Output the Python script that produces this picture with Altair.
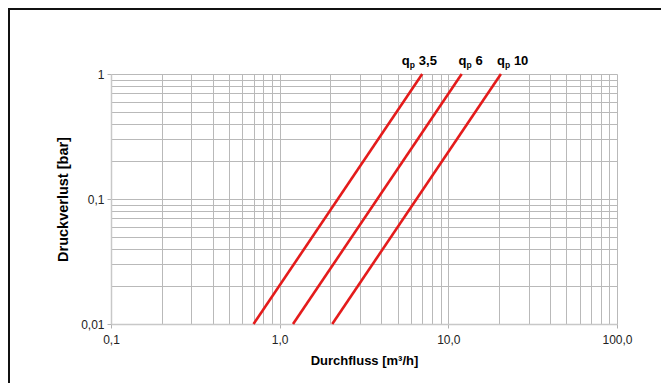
import altair as alt
import pandas as pd

# ---- data ----
series = ["3,5", "6", "10"]               # q_p nominal flow labels
flow_at_low = [0.7, 1.2, 2.05]             # m³/h at 0.01 bar
flow_at_high = [7.0, 12.0, 20.5]           # m³/h at 1 bar
p_low = 0.01
p_high = 1.0
label_flow = [5.3, 11.5, 19.4]             # where each curve label starts (m³/h, at 1 bar)

x_grid = [0.1, 0.2, 0.3, 0.4, 0.5, 0.6, 0.7, 0.8, 0.9,
          1, 2, 3, 4, 5, 6, 7, 8, 9,
          10, 20, 30, 40, 50, 60, 70, 80, 90, 100]
y_grid = [0.01, 0.02, 0.03, 0.04, 0.05, 0.06, 0.07, 0.08, 0.09,
          0.1, 0.2, 0.3, 0.4, 0.5, 0.6, 0.7, 0.8, 0.9, 1]

rows = []
for s, lo, hi in zip(series, flow_at_low, flow_at_high):
    rows.append({"series": s, "flow": lo, "dp": p_low})
    rows.append({"series": s, "flow": hi, "dp": p_high})
lines_df = pd.DataFrame(rows)
labels_df = pd.DataFrame({"series": series, "flow": label_flow, "dp": [p_high] * 3})

FONT = "Liberation Sans"
RED = "#e41b1b"
MAJOR = "abs(log(datum.value)/LN10 - round(log(datum.value)/LN10)) < 0.0001"

x_axis = alt.Axis(
    values=x_grid, grid=True, gridColor="#b9b9b9", gridWidth=1,
    labelExpr=f"({MAJOR}) ? replace(format(datum.value, '.1f'), '.', ',') : ''",
    labelOverlap=False, labelFlush=False, labelFont=FONT, labelFontSize=12,
    labelColor="#222", labelPadding=6,
    tickSize=4, tickColor="#b0b0b0",
    tickOpacity={"condition": {"test": MAJOR, "value": 1}, "value": 0},
    domainColor="#c8c8c8", domainWidth=1.5,
    titleFont=FONT, titleFontSize=13, titleFontWeight="bold", titleColor="#000",
    titlePadding=9,
)
y_axis = alt.Axis(
    values=y_grid, grid=True, gridColor="#b9b9b9", gridWidth=1,
    labelExpr=f"({MAJOR}) ? replace(format(datum.value, '~g'), '.', ',') : ''",
    labelOverlap=False, labelFlush=False, labelFont=FONT, labelFontSize=12,
    labelColor="#222", labelPadding=3,
    tickSize=4, tickColor="#b0b0b0",
    tickOpacity={"condition": {"test": MAJOR, "value": 1}, "value": 0},
    domainColor="#c8c8c8", domainWidth=1.5,
    titleFont=FONT, titleFontSize=14.5, titleFontWeight="bold", titleColor="#000",
    titlePadding=10,
)

x_scale = alt.Scale(type="log", domain=[0.1, 100], nice=False)
y_scale = alt.Scale(type="log", domain=[0.01, 1], nice=False)


def X(field):
    return alt.X(f"{field}:Q", scale=x_scale, axis=x_axis, title="Durchfluss [m³/h]")


def Y(field):
    return alt.Y(f"{field}:Q", scale=y_scale, axis=y_axis, title="Druckverlust [bar]")


lines = alt.Chart(lines_df).mark_line(color=RED, strokeWidth=2.6).encode(
    x=X("flow"), y=Y("dp"), detail="series:N"
)

q_txt = alt.Chart(labels_df).mark_text(
    text="q", align="left", baseline="alphabetic", dx=0, dy=-9,
    font=FONT, fontSize=13, fontWeight="bold", color="#000"
).encode(x=X("flow"), y=Y("dp"))

p_txt = alt.Chart(labels_df).mark_text(
    text="p", align="left", baseline="alphabetic", dx=8, dy=-6,
    font=FONT, fontSize=8.5, fontWeight="bold", color="#000"
).encode(x=X("flow"), y=Y("dp"))

n_txt = alt.Chart(labels_df).mark_text(
    align="left", baseline="alphabetic", dx=17, dy=-9,
    font=FONT, fontSize=13, fontWeight="bold", color="#000"
).encode(x=X("flow"), y=Y("dp"), text="series:N")

frame = alt.Chart(alt.Data(values=[{}])).mark_rect(
    fillOpacity=0, stroke="#111", strokeWidth=2
).encode(
    x=alt.value(-102), x2=alt.value(700), y=alt.value(-65), y2=alt.value(500)
)

chart = alt.layer(lines, q_txt, p_txt, n_txt, frame).properties(
    width=506, height=250,
    autosize=alt.AutoSizeParams(type="none"),
    padding={"left": 103, "top": 66, "right": 44, "bottom": 59},
    background="white",
).configure_view(stroke=None)

chart.save("out.html", embed_options={"renderer": "svg", "actions": False})
